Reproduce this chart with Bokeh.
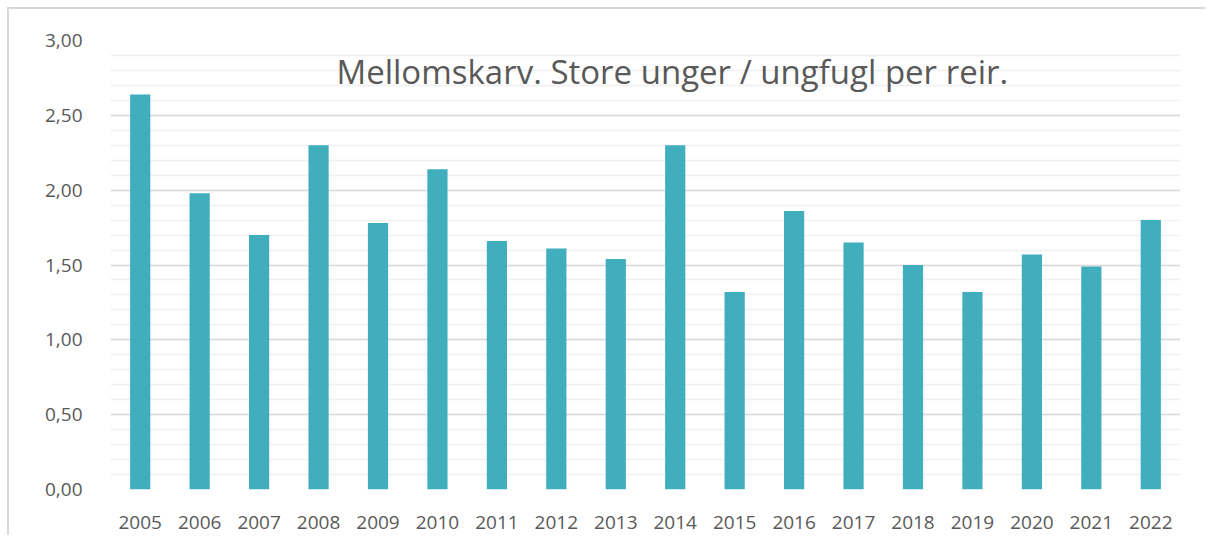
from bokeh.plotting import figure
from bokeh.models import FixedTicker, Label
from bokeh.embed import file_html
from bokeh.resources import INLINE

years = ["2005", "2006", "2007", "2008", "2009", "2010", "2011", "2012", "2013",
         "2014", "2015", "2016", "2017", "2018", "2019", "2020", "2021", "2022"]
values = [2.64, 1.98, 1.70, 2.30, 1.78, 2.14, 1.66, 1.61, 1.54,
          2.30, 1.32, 1.86, 1.65, 1.50, 1.32, 1.57, 1.49, 1.80]
y_ticks = [0.0, 0.5, 1.0, 1.5, 2.0, 2.5, 3.0]
y_tick_labels = ["0,00", "0,50", "1,00", "1,50", "2,00", "2,50", "3,00"]
minor_ticks = [round(i * 0.1, 1) for i in range(31)]
title_text = "Mellomskarv. Store unger / ungfugl per reir."

FONT = "Open Sans"
GREY = "#595959"

p = figure(x_range=years, y_range=(0, 3.0), width=1198, height=528,
           output_backend="svg", toolbar_location=None,
           min_border_left=101, min_border_right=27,
           min_border_top=31, min_border_bottom=48)
p.styles = {"border-top": "2px solid #d9d9d9", "border-left": "2px solid #d9d9d9",
            "margin-left": "7px", "margin-top": "7px"}
p.outline_line_color = None
p.background_fill_color = "white"
p.border_fill_color = "white"

p.vbar(x=years, top=values, width=0.34, color="#41aebd", line_color=None)

p.yaxis.ticker = FixedTicker(ticks=y_ticks, minor_ticks=minor_ticks)
p.yaxis.major_label_overrides = {t: l for t, l in zip(y_ticks, y_tick_labels)}
for ax in (p.xaxis, p.yaxis):
    ax.axis_line_color = None
    ax.major_tick_line_color = None
    ax.minor_tick_line_color = None
    ax.major_label_text_font = FONT
    ax.major_label_text_color = GREY
    ax.major_label_text_font_size = "19px"
p.yaxis.major_label_standoff = 22
p.xaxis.major_label_standoff = 20

p.xgrid.grid_line_color = None
p.ygrid.grid_line_color = "#d9d9d9"
p.ygrid.grid_line_width = 1.5
p.ygrid.minor_grid_line_color = "#f0f0f0"
p.ygrid.minor_grid_line_width = 1.5

p.add_layout(Label(x=226, y=418, x_units="screen", y_units="screen",
                   text=title_text, text_font=FONT, text_font_size="33px",
                   text_color=GREY, text_baseline="middle", text_align="left"))

open("out.html", "w").write(file_html(p, INLINE))
